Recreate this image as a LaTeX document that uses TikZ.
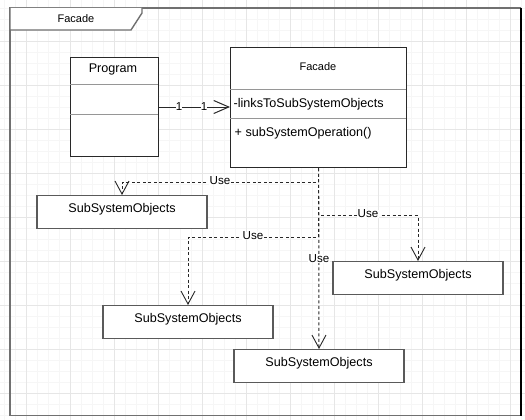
\documentclass[tikz,border=0pt]{standalone}
\usepackage{fontspec}
\setmainfont{Liberation Sans}
\usepackage{tikz}
\usetikzlibrary{arrows.meta, positioning}

\definecolor{gridminor}{RGB}{246,246,246}
\definecolor{gridmajor}{RGB}{230,230,230}
\definecolor{framegray}{RGB}{112,112,112}
\definecolor{boxgray}{RGB}{90,90,90}
\definecolor{divgray}{RGB}{150,150,150}
\definecolor{linegray}{RGB}{40,40,40}

\begin{document}
\begin{tikzpicture}[x=1pt,y=-1pt,
  classbox/.style={draw=linegray, line width=1.4pt, fill=white, rectangle, inner sep=0pt},
  ssobox/.style={draw=boxgray, line width=1.4pt, fill=white, rectangle, inner sep=0pt,
    minimum width=170pt, minimum height=33pt, text height=9pt, text depth=9pt,
    font=\fontsize{12.6}{15}\selectfont},
  txt/.style={inner sep=0.5pt, font=\fontsize{12.6}{15}\selectfont},
  uselbl/.style={fill=white, inner sep=0.4pt, font=\fontsize{11.6}{14}\selectfont},
  dep/.style={draw=linegray, line width=1pt, dash pattern=on 3pt off 2.5pt,
    -{Straight Barb[length=13pt, width=14pt, line width=0.9pt]}},
  assoc/.style={draw=linegray, line width=1pt,
    -{Straight Barb[length=15pt, width=13pt, line width=1pt]}}
]

\useasboundingbox (0,0) rectangle (525,420);
\fill[white] (0,0) rectangle (525,420);

% grid
\foreach \gx in {0,...,47} {
  \draw[gridminor, line width=0.8pt] (4.5+11*\gx,0) -- (4.5+11*\gx,420);
}
\foreach \gy in {0,...,38} {
  \draw[gridminor, line width=0.8pt] (0,8.7+11*\gy) -- (525,8.7+11*\gy);
}
\foreach \gx in {0,...,11} {
  \draw[gridmajor, line width=0.8pt] (26.5+44*\gx,0) -- (26.5+44*\gx,420);
}
\foreach \gy in {0,...,9} {
  \draw[gridmajor, line width=0.8pt] (0,-2.3+44*\gy) -- (525,-2.3+44*\gy);
}

% frame
\draw[framegray, line width=1.4pt] (521,8) -- (10,8) -- (10,415.5) -- (521,415.5);
\draw[black, line width=1.2pt] (521,8) -- (521,415.5);
\draw[framegray, line width=1.4pt, fill=white] (10,8) -- (10,30) -- (131,30) -- (142,13) -- (142,8);
\node[inner sep=0pt, font=\fontsize{11}{13}\selectfont] (frametitle) at (76,19) {Facade};

% Program class
\node[classbox, anchor=north west, minimum width=88pt, minimum height=99pt] (program) at (70,57) {};
\draw[divgray, line width=0.8pt] (70,84) -- (158,84);
\draw[divgray, line width=0.8pt] (70,114) -- (158,114);
\node[txt] (programtitle) at (113,69) {Program};

% Facade class
\node[classbox, anchor=north west, minimum width=176pt, minimum height=120pt] (facade) at (230,47) {};
\draw[divgray, line width=0.8pt] (230,89) -- (406,89);
\draw[divgray, line width=0.8pt] (230,118) -- (406,118);
\node[inner sep=0pt, font=\fontsize{11}{13}\selectfont] (facadetitle) at (318,67) {Facade};
\node[txt, anchor=west] (facadeattr) at (233,104) {-linksToSubSystemObjects};
\node[txt, anchor=west] (facadeop) at (234,133) {+ subSystemOperation()};

% subsystem objects
\node[ssobox, anchor=north] (sso1) at (122,195) {SubSystemObjects};
\node[ssobox, anchor=north] (sso2) at (418,261) {SubSystemObjects};
\node[ssobox, anchor=north] (sso3) at (188,305) {SubSystemObjects};
\node[ssobox, anchor=north] (sso4) at (319,349) {SubSystemObjects};

% association
\coordinate (progout) at (158,107);
\coordinate (facin) at (230,107);
\draw[assoc] (progout) -- (facin);
\node[inner sep=0.3pt, fill=white, font=\fontsize{11.5}{13}\selectfont] (multa) at (179,107) {1};
\node[inner sep=0.3pt, fill=white, font=\fontsize{11.5}{13}\selectfont] (multb) at (204,107) {1};

% dependencies
\draw[dep] (facade.south) -- ++(0,14) -| (sso1.north);
\draw[dep] (facade.south) -- ++(0,47) -| (sso2.north);
\draw[dep] (facade.south) -- ++(0,69) -| (sso3.north);
\draw[dep] (facade.south) -- (sso4.north);

% Text Node
\node[uselbl] (use1) at (220,181) {Use};
\node[uselbl] (use2) at (368,214) {Use};
\node[uselbl] (use3) at (253,236) {Use};
\node[uselbl] (use4) at (319,259) {Use};

\end{tikzpicture}
\end{document}
